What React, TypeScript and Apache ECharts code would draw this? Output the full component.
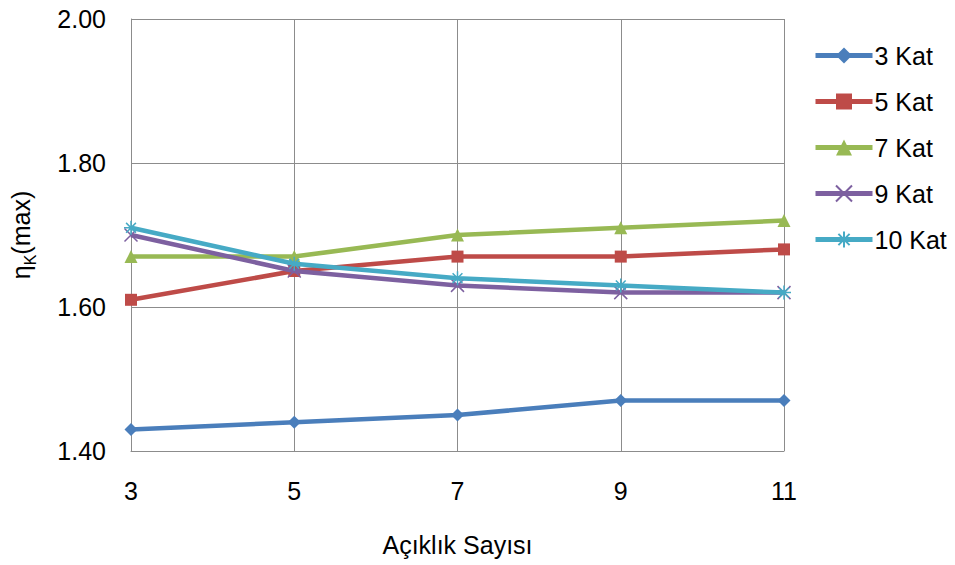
import React, { useEffect, useRef } from "react";
import * as echarts from "echarts";

// Number of spans (x axis)
const spans = ["3", "5", "7", "9", "11"];

// η_K(max) per number of storeys
const kat3 = [1.43, 1.44, 1.45, 1.47, 1.47];
const kat5 = [1.61, 1.65, 1.67, 1.67, 1.68];
const kat7 = [1.67, 1.67, 1.7, 1.71, 1.72];
const kat9 = [1.7, 1.65, 1.63, 1.62, 1.62];
const kat10 = [1.71, 1.66, 1.64, 1.63, 1.62];

const seriesNames = ["3 Kat", "5 Kat", "7 Kat", "9 Kat", "10 Kat"];
const seriesData = [kat3, kat5, kat7, kat9, kat10];
const colors = ["#4A7EBB", "#BE4B48", "#98B954", "#7D60A0", "#46AAC5"];

const CROSS = "path://M0,0L10,10M10,0L0,10";
const STAR = "path://M0,5L10,5M5,0L5,10M1.5,1.5L8.5,8.5M8.5,1.5L1.5,8.5";
const symbols = ["diamond", "rect", "triangle", CROSS, STAR];
const symbolSizes = [13, 12, 13, 13, 14];

const FONT = "'Liberation Sans', Arial, sans-serif";
const FS = 25;

export default function App() {
  const ref = useRef<HTMLDivElement>(null);

  useEffect(() => {
    if (!ref.current) return;
    const chart = echarts.init(ref.current, undefined, { renderer: "svg" });
    chart.setOption({
      animation: false,
      backgroundColor: "#ffffff",
      textStyle: { fontFamily: FONT },
      grid: { left: 130, right: 171, top: 19, bottom: 114, containLabel: false },
      legend: {
        orient: "vertical",
        left: 808,
        top: 38,
        itemWidth: 57,
        itemHeight: 20,
        itemGap: 21,
        lineStyle: { width: 5 },
        textStyle: { fontFamily: FONT, fontSize: FS, lineHeight: 25, color: "#000", padding: [0, 0, 0, -3] },
        data: seriesNames,
      },
      xAxis: {
        type: "category",
        data: spans,
        boundaryGap: false,
        name: "Açıklık Sayısı",
        nameLocation: "middle",
        nameGap: 81,
        nameTextStyle: { fontFamily: FONT, fontSize: FS, color: "#000" },
        axisLine: { show: true, lineStyle: { color: "#8C8C8C", width: 1 } },
        axisTick: { show: false },
        axisLabel: { fontFamily: FONT, fontSize: FS, color: "#000", margin: 27 },
        splitLine: { show: true, lineStyle: { color: "#8C8C8C", width: 1 } },
      },
      yAxis: {
        type: "value",
        min: 1.4,
        max: 2.0,
        interval: 0.2,
        name: "{a|η}{b|K}{a|(max)}",
        nameLocation: "middle",
        nameGap: 98,
        nameRotate: 90,
        nameTextStyle: {
          fontFamily: FONT,
          color: "#000",
          rich: {
            a: { fontFamily: FONT, fontSize: FS, color: "#000", lineHeight: 30, verticalAlign: "bottom" },
            b: { fontFamily: FONT, fontSize: 16, color: "#000", lineHeight: 30, verticalAlign: "bottom", padding: [0, 0, -5, 0] },
          },
        },
        axisLine: { show: true, lineStyle: { color: "#8C8C8C", width: 1 } },
        axisTick: { show: false },
        axisLabel: {
          fontFamily: FONT,
          fontSize: FS,
          color: "#000",
          margin: 25,
          formatter: (v: number) => v.toFixed(2),
        },
        splitLine: { show: true, lineStyle: { color: "#8C8C8C", width: 1 } },
      },
      series: seriesNames.map((name, i) => ({
        name,
        type: "line",
        data: seriesData[i],
        symbol: symbols[i],
        symbolSize: symbolSizes[i],
        showAllSymbol: true,
        lineStyle: { color: colors[i], width: 4.5 },
        itemStyle: {
          color: colors[i],
          borderColor: colors[i],
          borderWidth: i >= 3 ? 1.5 : 0,
        },
        z: 2 + i,
      })),
    });
    return () => chart.dispose();
  }, []);

  return <div ref={ref} style={{ width: 955, height: 565, position: "absolute", left: 0, top: 0 }} />;
}
